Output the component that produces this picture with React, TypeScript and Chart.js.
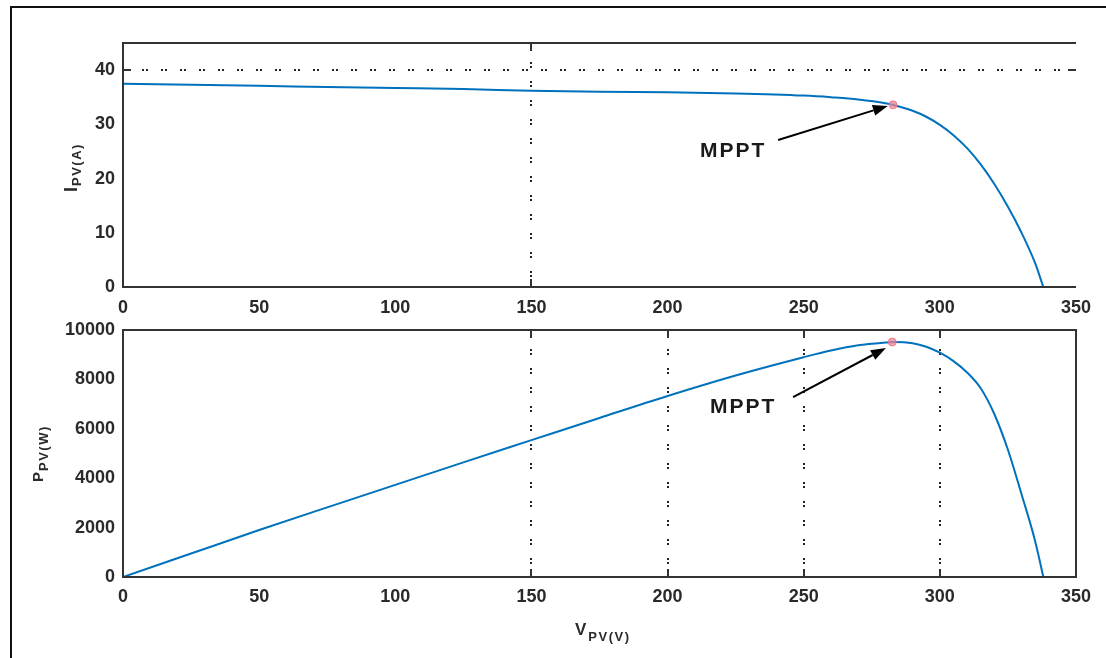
import React, { useEffect, useRef } from 'react';
import { Chart, registerables } from 'chart.js';

Chart.register(...registerables);

// ---- data ----
const voltage = [0, 25, 50, 75, 100, 125, 150, 175, 200, 225, 250, 260, 270, 280, 283, 290, 295, 300, 305, 310, 315, 320, 325, 330, 335, 338];
const current = [37.5, 37.3, 37.1, 36.9, 36.7, 36.5, 36.2, 36.0, 35.9, 35.7, 35.3, 35.0, 34.6, 33.9, 33.55, 32.5, 31.4, 29.9, 28.0, 25.6, 22.6, 19.0, 14.8, 10.0, 4.4, 0];
const power = [0, 950, 1900, 2820, 3730, 4640, 5540, 6440, 7330, 8160, 8900, 9170, 9380, 9490, 9510, 9460, 9320, 9080, 8740, 8280, 7640, 6600, 5150, 3350, 1450, 0];

const voltageTicks = [0, 50, 100, 150, 200, 250, 300, 350];
const currentTicks = [0, 10, 20, 30, 40];
const powerTicks = [0, 2000, 4000, 6000, 8000, 10000];

const currentGridV = [150];
const currentGridI = [40];
const powerGridV = [150, 200, 250, 300];

const mpptCurrent = { v: 282.8, y: 33.6 };
const mpptPower = { v: 282.5, y: 9514 };

const mpptLabel = 'MPPT';
const currentNote = { text: { v: 211.9, y: 25.1 }, from: { v: 240.6, y: 27.1 }, to: { v: 280.9, y: 33.4 } };
const powerNote = { text: { v: 215.6, y: 6883 }, from: { v: 246.1, y: 7287 }, to: { v: 280.2, y: 9271 } };

const FONT = '"Liberation Sans", Arial, sans-serif';
const BLUE = '#0072BD';
const INK = '#2a2a2a';

type Note = typeof currentNote;

function makePlugin(cfg: {
  gridV: number[];
  gridY: number[];
  rightBorder: boolean;
  note: Note;
  title: { main: string; sub: string; x: number; y: number; mainSize: number; subSize: number; subShift: number; subGap: number };
  xTitle?: { main: string; sub: string; x: number; y: number };
}) {
  return {
    id: 'frameDecor',
    beforeDatasetsDraw(chart: any) {
      const { ctx, chartArea: a, scales } = chart;
      const xs = scales.x;
      const ys = scales.y;
      ctx.save();
      ctx.strokeStyle = '#222';
      ctx.lineWidth = 2;
      ctx.setLineDash([2, 2, 2, 13]);
      for (const v of cfg.gridV) {
        const px = Math.round(xs.getPixelForValue(v));
        ctx.beginPath();
        ctx.moveTo(px, a.top);
        ctx.lineTo(px, a.bottom);
        ctx.stroke();
      }
      for (const v of cfg.gridY) {
        const py = Math.round(ys.getPixelForValue(v));
        ctx.beginPath();
        ctx.moveTo(a.left, py);
        ctx.lineTo(a.right, py);
        ctx.stroke();
      }
      ctx.restore();
    },
    afterDatasetsDraw(chart: any) {
      const { ctx, chartArea: a, scales } = chart;
      const xs = scales.x;
      const ys = scales.y;
      ctx.save();
      ctx.strokeStyle = '#333';
      ctx.lineWidth = 2;
      ctx.setLineDash([]);
      // box
      ctx.beginPath();
      ctx.moveTo(a.left, a.top);
      ctx.lineTo(a.right, a.top);
      ctx.moveTo(a.left, a.bottom);
      ctx.lineTo(a.right, a.bottom);
      ctx.moveTo(a.left, a.top - 1);
      ctx.lineTo(a.left, a.bottom + 1);
      if (cfg.rightBorder) {
        ctx.moveTo(a.right, a.top - 1);
        ctx.lineTo(a.right, a.bottom + 1);
      }
      ctx.stroke();
      // inward ticks at grid positions
      const tl = 8;
      ctx.beginPath();
      for (const v of cfg.gridV) {
        const px = Math.round(xs.getPixelForValue(v));
        ctx.moveTo(px, a.top);
        ctx.lineTo(px, a.top + tl);
        ctx.moveTo(px, a.bottom);
        ctx.lineTo(px, a.bottom - tl);
      }
      for (const v of cfg.gridY) {
        const py = Math.round(ys.getPixelForValue(v));
        ctx.moveTo(a.left, py);
        ctx.lineTo(a.left + tl, py);
        ctx.moveTo(a.right, py);
        ctx.lineTo(a.right - tl, py);
      }
      ctx.stroke();

      // annotation arrow + text
      const n = cfg.note;
      const x0 = xs.getPixelForValue(n.from.v);
      const y0 = ys.getPixelForValue(n.from.y);
      const x1 = xs.getPixelForValue(n.to.v);
      const y1 = ys.getPixelForValue(n.to.y);
      const ang = Math.atan2(y1 - y0, x1 - x0);
      const hl = 15;
      const hw = 5.5;
      ctx.strokeStyle = '#000';
      ctx.fillStyle = '#000';
      ctx.lineWidth = 2;
      ctx.beginPath();
      ctx.moveTo(x0, y0);
      ctx.lineTo(x1 - hl * Math.cos(ang), y1 - hl * Math.sin(ang));
      ctx.stroke();
      ctx.beginPath();
      ctx.moveTo(x1, y1);
      ctx.lineTo(x1 - hl * Math.cos(ang) + hw * Math.sin(ang), y1 - hl * Math.sin(ang) - hw * Math.cos(ang));
      ctx.lineTo(x1 - hl * Math.cos(ang) - hw * Math.sin(ang), y1 - hl * Math.sin(ang) + hw * Math.cos(ang));
      ctx.closePath();
      ctx.fill();

      ctx.font = `bold 21px ${FONT}`;
      (ctx as any).letterSpacing = '2px';
      ctx.fillStyle = '#1a1a1a';
      ctx.textAlign = 'left';
      ctx.textBaseline = 'middle';
      ctx.fillText(mpptLabel, xs.getPixelForValue(n.text.v), ys.getPixelForValue(n.text.y));
      (ctx as any).letterSpacing = '0px';
      ctx.restore();
    },
    afterDraw(chart: any) {
      const { ctx } = chart;
      const t = cfg.title;
      ctx.save();
      ctx.fillStyle = INK;
      ctx.textBaseline = 'alphabetic';
      ctx.textAlign = 'left';
      ctx.translate(t.x, t.y);
      ctx.rotate(-Math.PI / 2);
      ctx.font = `bold ${t.mainSize}px ${FONT}`;
      ctx.fillText(t.main, 0, 0);
      const w = ctx.measureText(t.main).width;
      ctx.font = `bold ${t.subSize}px ${FONT}`;
      (ctx as any).letterSpacing = '1.5px';
      ctx.fillText(t.sub, w + t.subGap, t.subShift);
      (ctx as any).letterSpacing = '0px';
      ctx.restore();
      if (cfg.xTitle) {
        const xt = cfg.xTitle;
        ctx.save();
        ctx.fillStyle = INK;
        ctx.textBaseline = 'alphabetic';
        ctx.textAlign = 'left';
        ctx.font = `bold 17px ${FONT}`;
        ctx.fillText(xt.main, xt.x, xt.y);
        const w2 = ctx.measureText(xt.main).width;
        ctx.font = `bold 13px ${FONT}`;
        (ctx as any).letterSpacing = '1.5px';
        ctx.fillText(xt.sub, xt.x + w2 + 2, xt.y + 6);
        (ctx as any).letterSpacing = '0px';
        ctx.restore();
      }
    },
  };
}

function axisOptions(min: number, max: number, ticks: number[], fit: (s: any) => void, padding: number) {
  return {
    type: 'linear' as const,
    min,
    max,
    afterBuildTicks: (s: any) => {
      s.ticks = ticks.map((v) => ({ value: v }));
    },
    afterFit: fit,
    grid: { display: false, drawTicks: false },
    border: { display: false },
    ticks: {
      font: { family: FONT, size: 18, weight: 'bold' as const },
      color: INK,
      padding,
      maxRotation: 0,
      autoSkip: false,
      callback: (v: any) => String(v),
    },
  };
}

function makeConfig(values: number[], yMin: number, yMax: number, yTicks: number[], mppt: { v: number; y: number }, top: number, xHeight: number, xPad: number, plugin: any) {
  return {
    type: 'line' as const,
    data: {
      datasets: [
        {
          data: [{ x: mppt.v, y: mppt.y }],
          showLine: false,
          pointRadius: 4,
          pointBorderWidth: 1,
          pointBackgroundColor: 'rgba(238,130,150,0.75)',
          pointBorderColor: 'rgba(238,120,140,0.9)',
          order: 0,
        },
        {
          data: voltage.map((v, i) => ({ x: v, y: values[i] })),
          borderColor: BLUE,
          borderWidth: 2,
          pointRadius: 0,
          fill: false,
          cubicInterpolationMode: 'monotone' as const,
          order: 1,
        },
      ],
    },
    options: {
      animation: false as const,
      responsive: false,
      events: [],
      layout: { padding: { top, right: 30, left: 0, bottom: 0 } },
      plugins: { legend: { display: false }, tooltip: { enabled: false } },
      scales: {
        x: axisOptions(0, 350, voltageTicks, (s: any) => { s.height = xHeight; }, xPad),
        y: axisOptions(yMin, yMax, yTicks, (s: any) => { s.width = 123; }, 8),
      },
    },
    plugins: [plugin],
  };
}

export default function App() {
  const topRef = useRef<HTMLCanvasElement | null>(null);
  const botRef = useRef<HTMLCanvasElement | null>(null);

  useEffect(() => {
    const topPlugin = makePlugin({
      gridV: currentGridV,
      gridY: currentGridI,
      rightBorder: false,
      note: currentNote,
      title: { main: 'I', sub: 'PV(A)', x: 77, y: 192, mainSize: 18, subSize: 13, subShift: 4, subGap: 1 },
    });
    const botPlugin = makePlugin({
      gridV: powerGridV,
      gridY: [],
      rightBorder: true,
      note: powerNote,
      title: { main: 'P', sub: 'PV(W)', x: 43, y: 182, mainSize: 15, subSize: 13, subShift: 5, subGap: 1 },
      xTitle: { main: 'V', sub: 'PV(V)', x: 575, y: 335 },
    });
    const c1 = new Chart(topRef.current as HTMLCanvasElement, makeConfig(current, 0, 45, currentTicks, mpptCurrent, 43, 33, 10, topPlugin) as any);
    const c2 = new Chart(botRef.current as HTMLCanvasElement, makeConfig(power, 0, 10000, powerTicks, mpptPower, 30, 81, 9, botPlugin) as any);
    return () => {
      c1.destroy();
      c2.destroy();
    };
  }, []);

  return (
    <div style={{ position: 'absolute', left: 0, top: 0, width: 1106, height: 658, background: '#fff', overflow: 'hidden' }}>
      <div
        style={{
          position: 'absolute',
          left: 10,
          top: 6,
          width: 1096,
          height: 652,
          borderLeft: '2px solid #111',
          borderTop: '2px solid #111',
          boxSizing: 'border-box',
        }}
      />
      <canvas ref={topRef} width={1106} height={320} style={{ position: 'absolute', left: 0, top: 0, width: 1106, height: 320 }} />
      <canvas ref={botRef} width={1106} height={358} style={{ position: 'absolute', left: 0, top: 300, width: 1106, height: 358 }} />
    </div>
  );
}
